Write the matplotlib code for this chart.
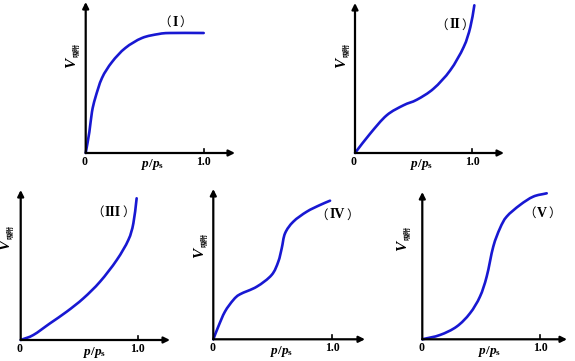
import matplotlib
matplotlib.use("Agg")
import matplotlib.pyplot as plt
from matplotlib.path import Path
from matplotlib.patches import PathPatch

plt.rcParams['mathtext.fontset'] = 'custom'
plt.rcParams['mathtext.rm'] = 'Liberation Serif:bold'
plt.rcParams['mathtext.it'] = 'Liberation Serif:italic:bold'
plt.rcParams['mathtext.bf'] = 'Liberation Serif:bold'

W, H = 575, 361

# ---- data (x = p/ps, y = adsorbed volume, arbitrary units) ----
I_x = [0, 0.031, 0.053, 0.081, 0.138, 0.223, 0.336, 0.477, 0.619, 0.717, 1.0]
I_y = [0, 21, 41, 55, 75, 91, 105, 115, 119, 120, 120]

II_x = [0, 0.129, 0.271, 0.414, 0.529, 0.671, 0.814, 0.929, 0.986, 1.02]
II_y = [0, 19.3, 37.7, 47.7, 53.3, 64.3, 82.7, 106, 126, 147.7]

III_x = [0, 0.108, 0.251, 0.393, 0.536, 0.678, 0.821, 0.920, 0.963, 0.991]
III_y = [0, 5, 16.7, 28.3, 41.7, 58.3, 80, 100, 116.7, 141.7]

IV_x = [0, 0.042, 0.098, 0.168, 0.224, 0.365, 0.490, 0.546, 0.575, 0.603, 0.672, 0.785, 0.897, 0.981]
IV_y = [0, 12.7, 27.7, 39.3, 45, 52.6, 64.3, 77.6, 91, 106, 117.6, 127.6, 134.3, 138.6]

V_x = [0, 0.150, 0.292, 0.405, 0.490, 0.547, 0.603, 0.660, 0.717, 0.830, 0.943, 1.057]
V_y = [0, 4.3, 12.7, 26, 42.7, 62.7, 92.7, 111, 122.7, 134.3, 142.7, 146]

numerals = ['I', 'II', 'III', 'IV', 'V']
series = [(I_x, I_y), (II_x, II_y), (III_x, III_y), (IV_x, IV_y), (V_x, V_y)]

# layout: origin px, px per unit x, x-axis end px, y-axis top px,
# roman label px, y-label px, x-label fraction
panels = [
    dict(o=(85.7, 153), ux=118, xe=235, yt=2, lab=(175, 22), yl=(72, 55), xl=0.57),
    dict(o=(355, 153), ux=117, xe=504, yt=3, lab=(455, 25), yl=(342, 55), xl=0.57),
    dict(o=(20.7, 340), ux=117, xe=170, yt=190, lab=(113, 212), yl=(6, 237), xl=0.63),
    dict(o=(213.3, 339.3), ux=119, xe=365, yt=189, lab=(337, 215), yl=(200, 245), xl=0.575),
    dict(o=(422.3, 339.3), ux=117.7, xe=567, yt=192, lab=(542, 213), yl=(403, 238), xl=0.57),
]


def smooth_path(xs, ys):
    """Cubic Bezier path through the given points (Catmull-Rom tangents)."""
    n = len(xs)
    verts = [(xs[0], ys[0])]
    codes = [Path.MOVETO]
    for i in range(n - 1):
        i0 = max(i - 1, 0)
        i3 = min(i + 2, n - 1)
        t1x = (xs[i + 1] - xs[i0]) / (i + 1 - i0)
        t1y = (ys[i + 1] - ys[i0]) / (i + 1 - i0)
        t2x = (xs[i3] - xs[i]) / (i3 - i)
        t2y = (ys[i3] - ys[i]) / (i3 - i)
        verts += [(xs[i] + t1x / 3, ys[i] + t1y / 3),
                  (xs[i + 1] - t2x / 3, ys[i + 1] - t2y / 3),
                  (xs[i + 1], ys[i + 1])]
        codes += [Path.CURVE4] * 3
    return Path(verts, codes)


fig = plt.figure(figsize=(W / 100, H / 100), dpi=100)
fig.patch.set_facecolor('white')

blue = '#1818d2'
cjk = ['Noto Sans CJK SC', 'DejaVu Sans']

for p, (xs, ys), num in zip(panels, series, numerals):
    ox, oy = p['o']
    ux = p['ux']
    ax = fig.add_axes([ox / W, 1 - oy / H, (p['xe'] - ox) / W, (oy - p['yt']) / H])
    xmax = (p['xe'] - ox) / ux
    ymax = oy - p['yt']
    ax.set_xlim(0, xmax)
    ax.set_ylim(0, ymax)
    ax.axis('off')
    ax.patch.set_alpha(0)
    # axes arrows
    for end in [(1, 0), (0, 1)]:
        ax.annotate('', xy=end, xytext=(0, 0), xycoords='axes fraction',
                    arrowprops=dict(arrowstyle='-|>', lw=1.6, color='black',
                                    mutation_scale=9, shrinkA=0, shrinkB=0),
                    annotation_clip=False)
    ax.plot([1, 1], [0, 4], color='black', lw=1.2, clip_on=False)
    patch = PathPatch(smooth_path(xs, ys), facecolor='none', edgecolor=blue,
                      lw=1.9, clip_on=False, capstyle='round', joinstyle='round')
    ax.add_patch(patch)
    ax.text(-0.01, -9, '0', ha='center', va='center', fontsize=8.5,
            family='Liberation Serif', weight='bold', clip_on=False)
    ax.text(1.0, -9, '1.0', ha='center', va='center', fontsize=8.5,
            family='Liberation Serif', weight='bold', clip_on=False)
    ax.text(p['xl'], -12, r'$p/p_{\mathrm{s}}$', ha='center', va='center',
            fontsize=9.5, clip_on=False)
    # roman numeral with full-width parentheses
    lx, ly = p['lab']
    t = ax.text((lx - ox) / ux, oy - ly, num, ha='center', va='center',
                fontsize=10, family='Liberation Serif', weight='bold', clip_on=False)
    ax.annotate('（', xy=(0, 0.5), xycoords=t, xytext=(-1.0, 0),
                textcoords='offset points', ha='right', va='center',
                fontsize=9, family=cjk, annotation_clip=False)
    ax.annotate('）', xy=(1, 0.5), xycoords=t, xytext=(1.0, 0),
                textcoords='offset points', ha='left', va='center',
                fontsize=9, family=cjk, annotation_clip=False)
    # y label  V_吸附 (rotated)
    yx, yy = p['yl']
    ax.text((yx - ox) / ux, oy - yy - 8, 'V', ha='center', va='center',
            fontsize=11, family='Liberation Serif', style='italic',
            weight='bold', rotation=90, clip_on=False)
    ax.text((yx + 3.5 - ox) / ux, oy - yy + 5, '吸附', ha='center', va='center',
            fontsize=5, family=cjk, weight='bold', rotation=90, clip_on=False)

fig.savefig('out.png', dpi=100)
